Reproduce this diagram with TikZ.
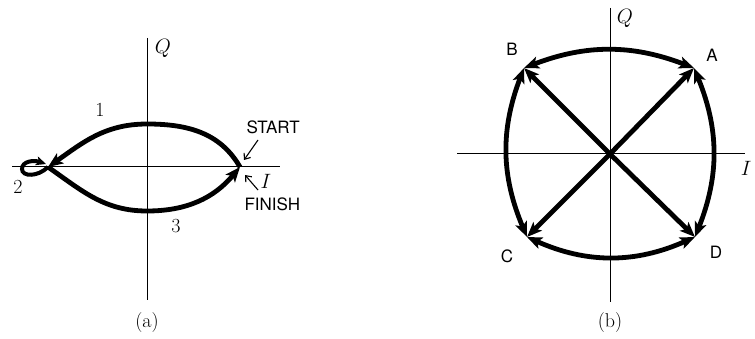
\documentclass[tikz,border=0pt]{standalone}
\usepackage{fontspec}
\setsansfont{TeX Gyre Heros}
\usetikzlibrary{arrows.meta}

\begin{document}
\begin{tikzpicture}[x=1pt,y=-1pt,
    axis/.style={line width=1pt},
    path/.style={line width=4.8pt,-{Stealth[length=15pt,width=12pt,inset=3.5pt]}},
    twoway/.style={line width=4.8pt,{Stealth[length=15pt,width=12pt,inset=3.5pt]}-{Stealth[length=15pt,width=12pt,inset=3.5pt]}},
    pointer/.style={line width=1.1pt,-{Straight Barb[length=5pt,width=8pt]}},
    num/.style={font=\fontsize{20}{24}\selectfont},
    word/.style={font=\sffamily\fontsize{17}{20}\selectfont}]
    \useasboundingbox (0,0) rectangle (755,339);

    % (a) axes
    \coordinate (aN) at (147,38);
    \coordinate (aS) at (147,300);
    \coordinate (aW) at (12,167);
    \coordinate (aE) at (280,167);
    \draw[axis] (aN) -- (aS);
    \draw[axis] (aW) -- (aE);

    % (a) trajectory
    \coordinate (R) at (240,167);
    \coordinate (L) at (48,167);
    \coordinate (T) at (147,124);
    \coordinate (Bt) at (147,211);
    \draw[path] (R) to[out=120,in=0] (T) to[out=180,in=35] (L);
    \draw[path] (L) to[out=-35,in=180] (Bt) to[out=0,in=-130] (R);
    \draw[line width=4pt,-{Stealth[length=10pt,width=9pt,inset=2.5pt]}]
        (L) .. controls (38,177) and (22,177) .. (22,169)
            .. controls (22,161) and (34,160) .. (46,164);

    \node[num] (one) at (100,110) {1};
    \node[num] (two) at (18,187) {2};
    \node[num] (three) at (176,226) {3};
    \node[num] (aQ) at (163,48) {$Q$};
    \node[num] (aI) at (266,181) {$I$};
    \node[word,anchor=west] (start) at (243,127) {START};
    \node[word,anchor=west] (finish) at (241,204) {FINISH};
    \coordinate (sTip) at (244,160);
    \coordinate (fTip) at (245,175);
    \draw[pointer] (258,140) -- (sTip);
    \draw[pointer] (258,190) -- (fTip);
    \node[num] (capa) at (147,323) {(a)};

    % (b) axes
    \coordinate (bN) at (610,8);
    \coordinate (bS) at (610,302);
    \coordinate (bW) at (457,154);
    \coordinate (bE) at (745,154);
    \draw[axis] (bN) -- (bS);
    \draw[axis] (bW) -- (bE);

    % (b) constellation
    \coordinate (O) at (610,154);
    \coordinate (A) at (694,68);
    \coordinate (B) at (524,68);
    \coordinate (C) at (527,237);
    \coordinate (D) at (695,237);
    \foreach \p in {A,B,C,D}
        \draw[path] (O) -- (\p);
    \draw[twoway] (B) to[bend left=21] (A);
    \draw[twoway] (A) to[bend left=22] (D);
    \draw[twoway] (D) to[bend left=24] (C);
    \draw[twoway] (C) to[bend left=22] (B);

    \node[word] (lA) at (712,55) {A};
    \node[word] (lB) at (512,49) {B};
    \node[word] (lC) at (507,256) {C};
    \node[word] (lD) at (716,252) {D};
    \node[num] (bQ) at (625,18) {$Q$};
    \node[num,anchor=east] (bI) at (755,168) {$I$};
    \node[num] (capb) at (610,323) {(b)};
\end{tikzpicture}
\end{document}
